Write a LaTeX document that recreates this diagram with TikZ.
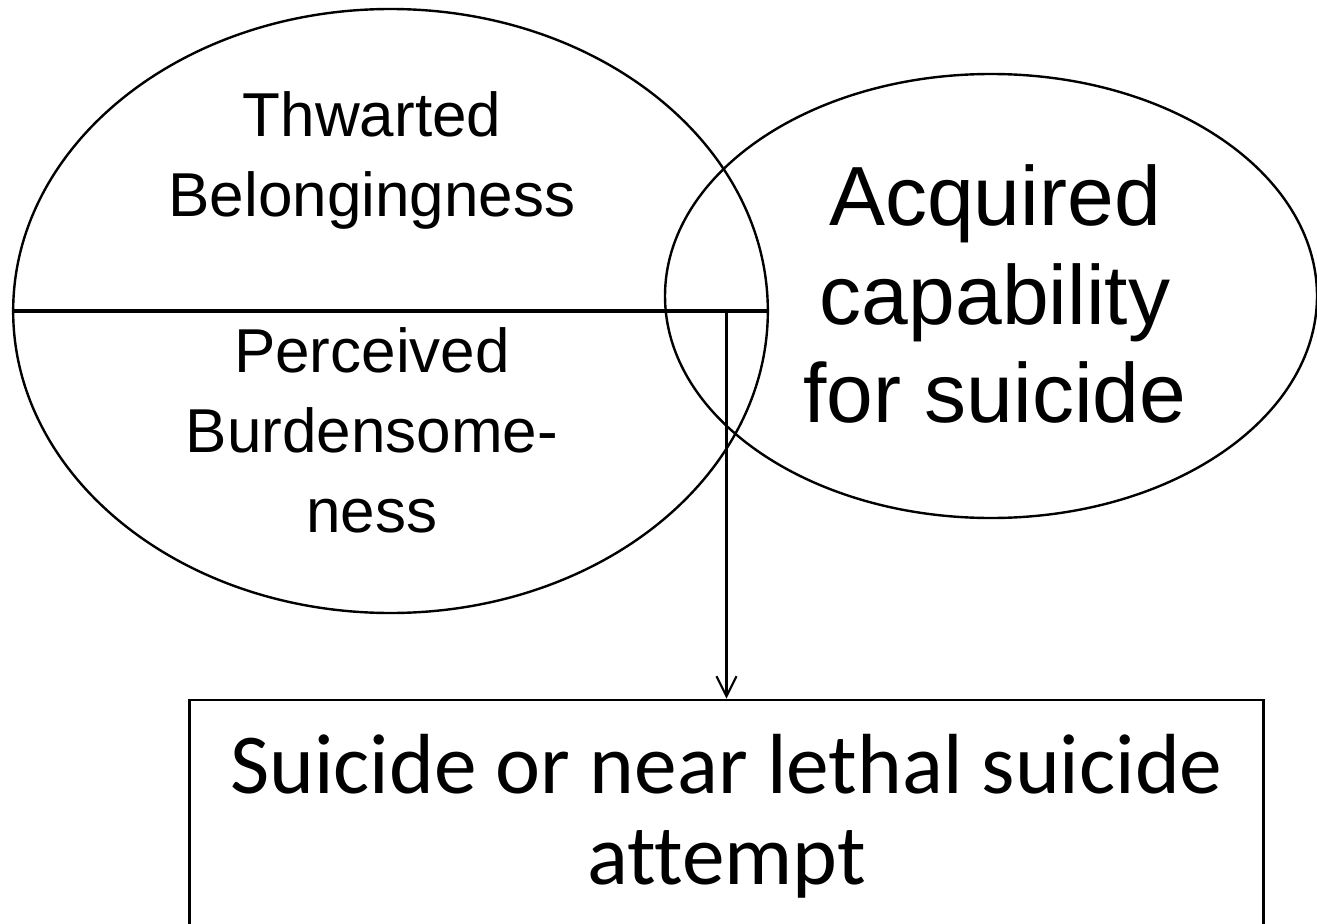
\documentclass[tikz,border=0pt]{standalone}
\usepackage{fontspec}
\setmainfont{Liberation Sans}
\newfontfamily\calibrifont[Ligatures=NoCommon]{Carlito}
\usetikzlibrary{shapes.geometric,arrows.meta}
\begin{document}
\begin{tikzpicture}[x=0.75pt,y=-0.75pt,
  oval/.style={draw, ellipse, line width=1.8pt, inner sep=0pt},
  blocktext/.style={align=center, inner sep=0pt},
  divider/.style={line width=2.6pt},
  flow/.style={line width=1.6pt, -{Straight Barb[length=15pt,width=15pt]}},
  outcomebox/.style={draw, line width=2.2pt, inner sep=0pt, align=center,
    minimum width=806pt, minimum height=174pt,
    font=\calibrifont\fontsize{64}{68}\selectfont},
]
\useasboundingbox (0,0) rectangle (1317,924);

% the two overlapping constructs
\node[oval, minimum width=566pt, minimum height=453pt] (desire) at (390.5,311) {};
\node[oval, minimum width=489pt, minimum height=333pt] (capability) at (991,296) {};

% split of the left construct into its two halves
\draw[divider] (desire.west) -- (desire.east);

% texts
\node[blocktext, font=\fontsize{46.5}{60}\selectfont] (tb) at (372,160) {Thwarted\\Belongingness};
\node[blocktext, font=\fontsize{46.5}{60}\selectfont] (pb) at (372,430) {Perceived\\Burdensome-\\ness};
\node[blocktext, font=\fontsize{63}{74}\selectfont] (ac) at (995,294) {Acquired\\capability\\for suicide};

% outcome
\node[outcomebox] (outcome) at (726.5,816) {Suicide or near lethal suicide\\attempt};

% path from the overlap to the outcome
\draw[flow] (outcome.north |- desire.center) -- (outcome.north);
\end{tikzpicture}
\end{document}
